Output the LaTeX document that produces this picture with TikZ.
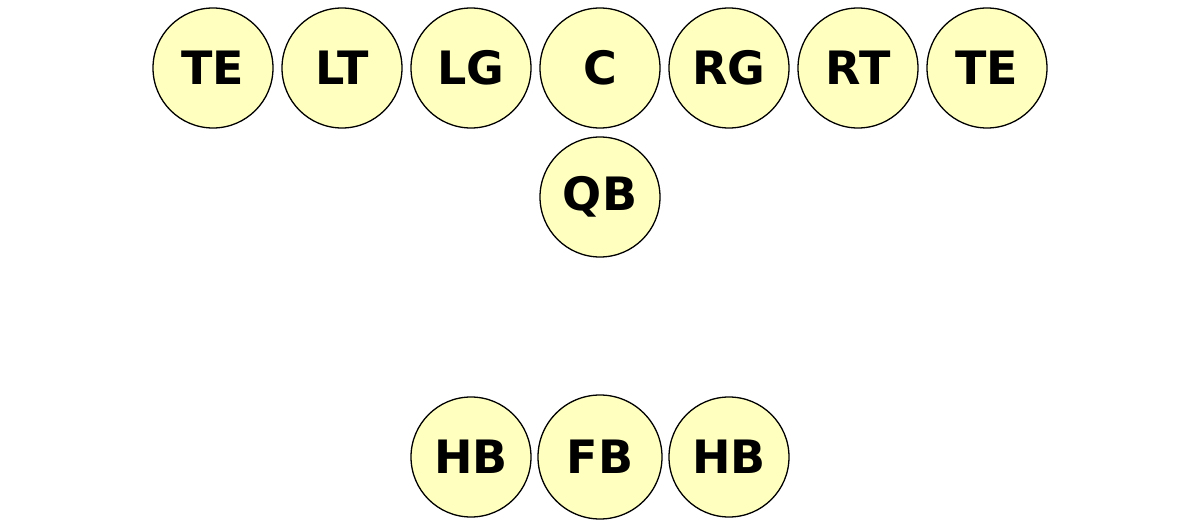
\documentclass[tikz,border=0pt]{standalone}
\usepackage{fontspec}
\setmainfont{DejaVu Sans}
\definecolor{pfill}{HTML}{FFFFC0}
\begin{document}
\begin{tikzpicture}[x=1pt,y=-1pt,
  player/.style={circle,draw=black,line width=1.3pt,fill=pfill,minimum size=120pt,inner sep=0pt,font=\fontsize{46}{50}\selectfont\bfseries}]
\useasboundingbox (0,0) rectangle (1200,526);
\node[player] (te1) at (213,68) {TE};
\node[player] (lt) at (342,68) {LT};
\node[player] (lg) at (471,68) {LG};
\node[player] (c) at (600,68) {C};
\node[player] (rg) at (729,68) {RG};
\node[player] (rt) at (858,68) {RT};
\node[player] (te2) at (987,68) {TE};
\node[player] (qb) at (600,197) {QB};
\node[player] (hb1) at (471,457) {HB};
\node[player,minimum size=124pt] (fb) at (600,457) {FB};
\node[player] (hb2) at (729,457) {HB};
\end{tikzpicture}
\end{document}
